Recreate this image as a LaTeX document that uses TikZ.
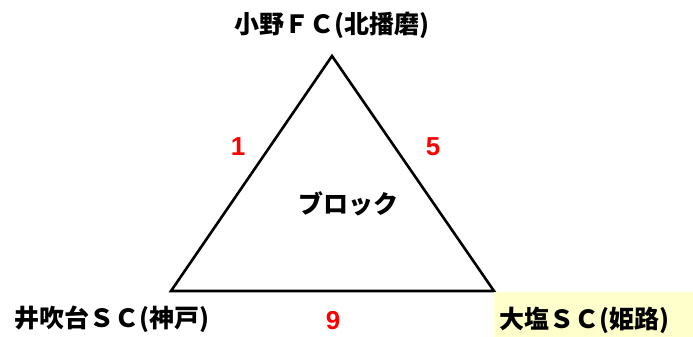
\documentclass[tikz,border=0pt]{standalone}
\usepackage{fontspec}
\newfontfamily\jp{Noto Sans CJK JP}
\newfontfamily\numfont{Liberation Sans}
\usepackage{tikz}
\usetikzlibrary{positioning}
\definecolor{paleyellow}{HTML}{FFFFCC}

\begin{document}
\begin{tikzpicture}[x=1pt, y=-1pt,
    team/.style={font=\jp\bfseries\fontsize{25}{29}\selectfont, inner sep=0pt},
    score/.style={font=\numfont\bfseries\fontsize{26}{30}\selectfont, text=red, inner sep=0pt}]
  \path[use as bounding box] (0, 0) rectangle (693, 337);

%%%%%%%%%%%% triangle
  \coordinate (top) at (332, 56);
  \coordinate (left) at (171, 291);
  \coordinate (right) at (494, 291);
  \draw[line width=2.6pt, line join=miter] (top) -- (left) -- (right) -- cycle;

  \node[team] at (348, 204) (block) {ブロック};

%%%%%%%%%%%% teams
  \fill[paleyellow] (494, 292) rectangle (693, 337);
  \node[team] at (332, 25) (ono) {小野ＦＣ(北播磨)};
  \node[team] at (112, 319) (ibukidai) {井吹台ＳＣ(神戸)};
  \node[team] at (584, 320) (oshio) {大塩ＳＣ(姫路)};

%%%%%%%%%%%% scores
  \node[score] at (238, 147) (s1) {1};
  \node[score] at (433, 147) (s5) {5};
  \node[score] at (333, 321) (s9) {9};
\end{tikzpicture}
\end{document}
